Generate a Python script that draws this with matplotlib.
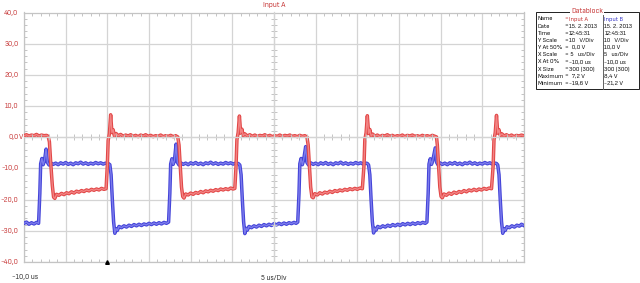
import matplotlib
matplotlib.use("Agg")
import matplotlib.pyplot as plt
from matplotlib import font_manager
from matplotlib.font_manager import FontProperties
from matplotlib.ticker import MultipleLocator

# ---------------- data ----------------
# Input A (red) : time in us, voltage in V
time_a = [-10.0, -9.7, -9.4, -9.1, -8.8, -8.5, -8.2, -7.9, -7.6, -7.3, -7.1,
          -6.95, -6.8, -6.6, -6.45, -6.3, -6.1, -5.8, -5.5, -5.2, -4.9, -4.6, -4.3, -4.0, -3.7, -3.4, -3.1,
          -2.8, -2.5, -2.2, -1.9, -1.6, -1.3, -1.0, -0.7, -0.4, -0.15,
          0.0, 0.1, 0.25, 0.4, 0.55, 0.7, 0.85, 1.05, 1.3, 1.6, 1.9, 2.2, 2.5, 2.8, 3.1, 3.4, 3.7, 4.0, 4.3,
          4.6, 4.9, 5.2, 5.5, 5.8, 6.1, 6.4, 6.7, 7.0, 7.3, 7.6, 7.9, 8.2, 8.45,
          8.6, 8.75, 8.9, 9.05, 9.2, 9.4, 9.7, 10.0, 10.3, 10.6, 10.9, 11.2, 11.5, 11.8, 12.1, 12.4, 12.7,
          13.0, 13.3, 13.6, 13.9, 14.2, 14.5, 14.8, 15.1, 15.3,
          15.45, 15.55, 15.7, 15.85, 16.0, 16.15, 16.3, 16.5, 16.8, 17.1, 17.4, 17.7, 18.0, 18.3, 18.6, 18.9,
          19.2, 19.5, 19.8, 20.1, 20.4, 20.7, 21.0, 21.3, 21.6, 21.9, 22.2, 22.5, 22.8, 23.1, 23.4, 23.7, 23.95,
          24.1, 24.25, 24.4, 24.55, 24.7, 24.9, 25.2, 25.5, 25.8, 26.1, 26.4, 26.7, 27.0, 27.3, 27.6, 27.9,
          28.2, 28.5, 28.8, 29.1, 29.4, 29.7, 30.0, 30.3, 30.6,
          30.8, 30.9, 31.05, 31.2, 31.35, 31.5, 31.65, 31.85, 32.1, 32.4, 32.7, 33.0, 33.3, 33.6, 33.9, 34.2,
          34.5, 34.8, 35.1, 35.4, 35.7, 36.0, 36.3, 36.6, 36.9, 37.2, 37.5, 37.8, 38.1, 38.4, 38.7, 39.0, 39.3, 39.5,
          39.6, 39.75, 39.9, 40.05, 40.2, 40.4, 40.7, 41.0, 41.3, 41.6, 41.9, 42.2, 42.5, 42.8, 43.1, 43.4,
          43.7, 44.0, 44.3, 44.6, 44.9, 45.2, 45.5, 45.8, 46.1,
          46.3, 46.4, 46.55, 46.7, 46.85, 47.0, 47.15, 47.35, 47.6, 47.9, 48.2, 48.5, 48.8, 49.1, 49.4, 49.7, 49.9]
volt_a = [0.5, 0.8, 0.4, 0.7, 0.5, 0.9, 0.4, 0.7, 0.5, 0.6, 0.3,
          -1.5, -8.0, -15.5, -19.2, -19.6, -18.3, -18.6, -18.0, -18.4, -17.8, -18.1, -17.5, -17.9, -17.3, -17.6, -17.1,
          -17.4, -16.9, -17.2, -16.7, -17.0, -16.6, -16.9, -16.4, -16.7, -16.5,
          -9.0, -1.0, 1.2, 7.2, 1.5, 2.4, 0.4, 1.2, 0.5, 0.9, 0.3, 0.7, 0.4, 0.8, 0.3, 0.6, 0.2, 0.7, 0.4,
          0.8, 0.3, 0.6, 0.2, 0.5, 0.3, 0.7, 0.2, 0.5, 0.3, 0.6, 0.2, 0.5, 0.1,
          -2.5, -9.0, -16.0, -19.0, -19.5, -18.2, -18.5, -17.9, -18.3, -17.7, -18.0, -17.4, -17.8, -17.2, -17.5, -17.0, -17.3,
          -16.8, -17.1, -16.6, -16.9, -16.5, -16.8, -16.3, -16.6, -16.4,
          -9.0, -0.8, 1.5, 6.8, 1.3, 2.6, 0.5, 1.1, 0.4, 0.8, 0.3, 0.7, 0.2, 0.6, 0.4, 0.8,
          0.3, 0.6, 0.2, 0.5, 0.3, 0.7, 0.2, 0.6, 0.4, 0.7, 0.3, 0.5, 0.2, 0.6, 0.3, 0.5, 0.1,
          -2.5, -9.0, -16.0, -19.1, -19.4, -18.1, -18.5, -17.8, -18.2, -17.6, -17.9, -17.3, -17.7, -17.1, -17.4, -16.9,
          -17.2, -16.7, -17.0, -16.5, -16.8, -16.4, -16.7, -16.3, -16.5,
          -9.0, -0.8, 1.4, 6.9, 1.2, 2.5, 0.4, 1.0, 0.3, 0.7, 0.2, 0.6, 0.4, 0.8, 0.3, 0.6,
          0.2, 0.5, 0.3, 0.7, 0.2, 0.6, 0.4, 0.7, 0.3, 0.5, 0.2, 0.6, 0.3, 0.5, 0.2, 0.6, 0.3, 0.1,
          -2.5, -9.0, -16.0, -19.0, -19.4, -18.2, -18.6, -17.9, -18.3, -17.6, -18.0, -17.4, -17.7, -17.1, -17.5, -16.9,
          -17.2, -16.7, -17.1, -16.6, -16.9, -16.4, -16.7, -16.3, -16.5,
          -9.0, -0.8, 1.5, 7.0, 1.3, 2.4, 0.5, 1.1, 0.4, 0.8, 0.3, 0.7, 0.2, 0.6, 0.4, 0.7, 0.5]

# Input B (blue)
time_b = [-10.0, -9.7, -9.4, -9.1, -8.8, -8.5, -8.25,
          -8.1, -8.0, -7.85, -7.7, -7.55, -7.35, -7.2, -7.0, -6.8, -6.5, -6.2, -5.9, -5.6, -5.3, -5.0, -4.7,
          -4.4, -4.1, -3.8, -3.5, -3.2, -2.9, -2.6, -2.3, -2.0, -1.7, -1.4, -1.1, -0.8, -0.5, -0.2, 0.1, 0.3,
          0.45, 0.6, 0.75, 0.9, 1.05, 1.2, 1.4, 1.7, 2.0, 2.3, 2.6, 2.9, 3.2, 3.5, 3.8, 4.1, 4.4, 4.7, 5.0,
          5.3, 5.6, 5.9, 6.2, 6.5, 6.8, 7.1, 7.35,
          7.5, 7.6, 7.75, 7.9, 8.05, 8.25, 8.4, 8.6, 8.8, 9.1, 9.4, 9.7, 10.0, 10.3, 10.6, 10.9, 11.2, 11.5,
          11.8, 12.1, 12.4, 12.7, 13.0, 13.3, 13.6, 13.9, 14.2, 14.5, 14.8, 15.1, 15.4, 15.7, 15.9,
          16.05, 16.2, 16.35, 16.5, 16.65, 16.8, 17.0, 17.3, 17.6, 17.9, 18.2, 18.5, 18.8, 19.1, 19.4, 19.7,
          20.0, 20.3, 20.6, 20.9, 21.2, 21.5, 21.8, 22.1, 22.4, 22.65, 22.85,
          23.0, 23.1, 23.25, 23.4, 23.55, 23.8, 23.95, 24.15, 24.4, 24.7, 25.0, 25.3, 25.6, 25.9, 26.2, 26.5,
          26.8, 27.1, 27.4, 27.7, 28.0, 28.3, 28.6, 28.9, 29.2, 29.5, 29.8, 30.1, 30.4, 30.7, 31.0, 31.2, 31.35,
          31.5, 31.65, 31.8, 31.95, 32.1, 32.25, 32.45, 32.75, 33.05, 33.35, 33.65, 33.95, 34.25, 34.55, 34.85,
          35.15, 35.45, 35.75, 36.05, 36.35, 36.65, 36.95, 37.25, 37.55, 37.85, 38.15, 38.35,
          38.5, 38.6, 38.75, 38.9, 39.05, 39.35, 39.5, 39.7, 39.9, 40.2, 40.5, 40.8, 41.1, 41.4, 41.7, 42.0,
          42.3, 42.6, 42.9, 43.2, 43.5, 43.8, 44.1, 44.4, 44.7, 45.0, 45.3, 45.6, 45.9, 46.2, 46.5, 46.7, 46.85,
          47.0, 47.15, 47.3, 47.45, 47.6, 47.75, 47.95, 48.25, 48.55, 48.85, 49.15, 49.45, 49.7, 49.9]
volt_b = [-27.6, -27.2, -27.9, -27.4, -27.8, -27.3, -27.6,
          -18.0, -8.5, -6.8, -8.8, -7.6, -3.8, -8.0, -8.9, -8.2, -8.7, -8.3, -8.8, -8.2, -8.6, -8.1, -8.7,
          -8.3, -8.8, -8.2, -8.5, -8.0, -8.6, -8.2, -8.7, -8.3, -8.6, -8.1, -8.5, -8.2, -8.6, -8.3, -8.4, -8.8,
          -12.0, -20.0, -27.0, -30.8, -29.3, -29.9, -28.6, -29.0, -28.4, -28.8, -28.2, -28.6, -28.0, -28.4, -27.9, -28.3, -27.8, -28.1, -27.6,
          -28.0, -27.5, -27.9, -27.4, -27.8, -27.3, -27.6, -27.2,
          -18.0, -8.6, -6.9, -8.7, -7.5, -2.2, -8.0, -8.9, -8.2, -8.7, -8.3, -8.8, -8.2, -8.6, -8.1, -8.7, -8.3, -8.8,
          -8.2, -8.5, -8.0, -8.6, -8.2, -8.7, -8.3, -8.6, -8.1, -8.5, -8.2, -8.6, -8.3, -8.4, -8.9,
          -12.0, -20.0, -27.0, -30.9, -29.2, -29.8, -28.6, -29.0, -28.4, -28.8, -28.2, -28.6, -28.0, -28.4, -27.9, -28.3,
          -27.7, -28.1, -27.6, -28.0, -27.5, -27.9, -27.4, -27.7, -27.3, -27.6, -27.2,
          -18.0, -8.5, -6.8, -8.8, -7.4, -3.0, -8.1, -8.9, -8.2, -8.7, -8.3, -8.8, -8.2, -8.6, -8.1, -8.7,
          -8.3, -8.8, -8.2, -8.5, -8.0, -8.6, -8.2, -8.7, -8.3, -8.6, -8.1, -8.5, -8.2, -8.6, -8.3, -8.4, -8.9,
          -12.0, -20.0, -27.0, -30.7, -29.2, -29.8, -28.6, -29.0, -28.4, -28.8, -28.2, -28.6, -28.0, -28.4, -27.9,
          -28.3, -27.7, -28.1, -27.6, -28.0, -27.5, -27.9, -27.4, -27.7, -27.3, -27.6, -27.2,
          -18.0, -8.6, -6.9, -8.7, -7.5, -3.4, -8.0, -8.9, -8.2, -8.7, -8.3, -8.8, -8.2, -8.6, -8.1, -8.7,
          -8.3, -8.8, -8.2, -8.5, -8.0, -8.6, -8.2, -8.7, -8.3, -8.6, -8.1, -8.5, -8.2, -8.6, -8.3, -8.4, -8.9,
          -12.0, -20.0, -27.0, -30.8, -29.3, -29.9, -28.7, -29.0, -28.4, -28.8, -28.2, -28.5, -27.9, -28.2]

y_ticks = [40, 30, 20, 10, 0, -10, -20, -30, -40]
y_tick_labels = ["40,0", "30,0", "20,0", "10,0", "0,0", "-10,0", "-20,0", "-30,0", "-40,0"]
y_unit = "V"
x_min, x_max = -10, 50
x_div = 5
y_div = 10
trigger_time = 0.0
title = "Input A"
x_start_label = "-10,0 us"
x_scale_label = "5 us/Div"

db_title = "Datablock"
db_labels = ["Name", "Date", "Time", "Y Scale", "Y At 50%", "X Scale", "X At 0%", "X Size", "Maximum", "Minimum"]
db_values_a = ["Input A", "15. 2. 2013", "12:45:31", "10   V/Div", "  0,0 V", " 5   us/Div",
               "-10,0 us", "300 (300)", "  7,2 V", "-19,6 V"]
db_values_b = ["Input B", "15. 2. 2013", "12:45:31", "10   V/Div", "10,0 V", "5   us/Div",
               "-10,0 us", "300 (300)", "8,4 V", "-21,2 V"]

# ---------------- fonts ----------------
narrow = None
for f in font_manager.fontManager.ttflist:
    nm = f.name.lower()
    if (("narrow" in nm or "condensed" in nm or f.stretch in ("condensed", "semi-condensed"))
            and f.style == "normal" and f.weight in (400, "normal", "regular", "book")):
        if narrow is None or "sans" in nm:
            narrow = f
if narrow is not None:
    FP = FontProperties(fname=narrow.fname)
    FS = 5.6
    DB_FS = 4.7
else:
    FP = FontProperties(family="Liberation Sans")
    FS = 4.7
    DB_FS = 4.1
plt.rcParams["font.family"] = ["Liberation Sans", "DejaVu Sans"]

RED_TXT = "#c83c3c"
BLUE_TXT = "#3c3cc8"
GRID = "#d4d4d4"
EDGE = "#c4c4c4"

W, H = 640, 283
fig = plt.figure(figsize=(W / 100, H / 100), dpi=100)
fig.patch.set_facecolor("white")

L, R, T, B = 24, 524, 12.5, 262
pos = [L / W, 1 - B / H, (R - L) / W, (B - T) / H]
ax = fig.add_axes(pos)
ax.set_xlim(x_min, x_max)
ax.set_ylim(-40, 40)
ax.xaxis.set_major_locator(MultipleLocator(x_div))
ax.yaxis.set_major_locator(MultipleLocator(y_div))
ax.xaxis.set_minor_locator(MultipleLocator(x_div / 5))
ax.yaxis.set_minor_locator(MultipleLocator(y_div / 5))
ax.grid(True, which="major", color=GRID, lw=0.9, zorder=0)
ax.tick_params(which="both", direction="in", top=True, right=True, bottom=True, left=True,
               labelbottom=False, labelleft=False, color=EDGE, width=0.7)
ax.tick_params(which="minor", length=2.2)
ax.tick_params(which="major", length=0)
for s in ax.spines.values():
    s.set_color(EDGE)
    s.set_linewidth(0.9)

# centre cross with ticks
ax2 = fig.add_axes(pos, sharex=ax, sharey=ax)
ax2.patch.set_visible(False)
ax2.spines["top"].set_visible(False)
ax2.spines["right"].set_visible(False)
ax2.spines["left"].set_position(("data", (x_min + x_max) / 2))
ax2.spines["bottom"].set_position(("data", 0))
for s in ("left", "bottom"):
    ax2.spines[s].set_color(GRID)
    ax2.spines[s].set_linewidth(0.9)
ax2.tick_params(which="both", direction="inout", labelbottom=False, labelleft=False,
                color=EDGE, width=0.7)
ax2.tick_params(which="minor", length=4.2)
ax2.tick_params(which="major", length=0)

# traces
ax.plot(time_b, volt_b, color="#4343d8", lw=2.5, solid_joinstyle="round", zorder=3)
ax.plot(time_b, volt_b, color="#7c7cec", lw=1.0, solid_joinstyle="round", zorder=3)
ax.plot(time_a, volt_a, color="#e24646", lw=2.5, solid_joinstyle="round", zorder=4)
ax.plot(time_a, volt_a, color="#f28484", lw=1.0, solid_joinstyle="round", zorder=4)

# trigger marker
ax.plot([trigger_time], [-40], marker="^", ms=2.6, color="black", clip_on=False, zorder=6)

# y labels
ytr = ax.get_yaxis_transform()
dx = -5.5 / (R - L)
for v, lab in zip(y_ticks, y_tick_labels):
    ax.text(dx, v, lab, transform=ytr, ha="right", va="center", fontproperties=FP, fontsize=FS, color=RED_TXT)
    if v == 0:
        ax.text(dx, v, y_unit, transform=ytr, ha="left", va="center", fontproperties=FP, fontsize=FS, color=RED_TXT)

# texts
fig.text(274 / W, 1 - 4.5 / H, title, ha="center", va="center", fontproperties=FP, fontsize=FS, color=RED_TXT)
fig.text(12 / W, 1 - 277.5 / H, x_start_label, ha="left", va="center", fontproperties=FP, fontsize=FS,
         color="#333333")
fig.text(274 / W, 1 - 277.5 / H, x_scale_label, ha="center", va="center", fontproperties=FP, fontsize=FS,
         color="#333333")

# datablock
bx0, bx1, by0, by1 = 536, 638.5, 12, 88.5
box = plt.Rectangle((bx0 / W, 1 - by1 / H), (bx1 - bx0) / W, (by1 - by0) / H,
                    transform=fig.transFigure, fill=False, ec="#202020", lw=0.7)
fig.add_artist(box)
fig.add_artist(plt.Line2D([602.5 / W, 602.5 / W], [1 - by1 / H, 1 - (by0 + 3) / H],
                          transform=fig.transFigure, color="#606060", lw=0.7))
fig.text(587 / W, 1 - 11 / H, db_title, ha="center", va="center", fontproperties=FP, fontsize=FS,
         color=RED_TXT, bbox=dict(facecolor="white", edgecolor="none", pad=0.6))
for i, (lab, va_, vb_) in enumerate(zip(db_labels, db_values_a, db_values_b)):
    y = 1 - (19 + 7.15 * i) / H
    fig.text(537.5 / W, y, lab, ha="left", va="center", fontproperties=FP, fontsize=DB_FS, color="#111111")
    fig.text(564.5 / W, y, "=", ha="left", va="center", fontproperties=FP, fontsize=DB_FS,
             color=RED_TXT if i == 0 else "#111111")
    fig.text(569 / W, y, va_, ha="left", va="center", fontproperties=FP, fontsize=DB_FS,
             color=RED_TXT if i == 0 else "#111111")
    fig.text(604.5 / W, y, vb_, ha="left", va="center", fontproperties=FP, fontsize=DB_FS,
             color=BLUE_TXT if i == 0 else "#111111")

fig.savefig("out.png", dpi=100, facecolor="white")
